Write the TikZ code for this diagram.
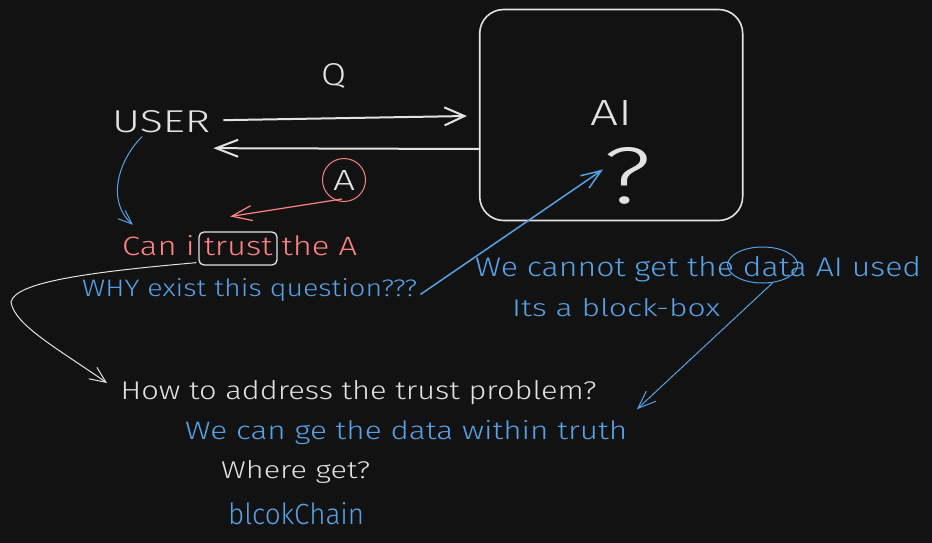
\documentclass[tikz,border=0pt]{standalone}
\usepackage{fontspec}
\IfFontExistsTF{Fira Sans Light}{\setmainfont{Fira Sans Light}}{%
  \IfFontExistsTF{Lato Light}{\setmainfont{Lato Light}}{\setmainfont{Fira Sans}}}
\usetikzlibrary{arrows.meta,shapes.geometric,calc}
\definecolor{bg}{HTML}{121212}
\definecolor{fg}{HTML}{E2E2E2}
\definecolor{rd}{HTML}{FF8383}
\definecolor{bl}{HTML}{56A2E8}
\newcommand\tx[3]{\resizebox{#1pt}{#2pt}{#3}}
\begin{document}
\begin{tikzpicture}[x=1pt,y=-1pt,
  lbl/.style={inner sep=0, anchor=base west, font=\fontsize{20}{24}\selectfont},
  barb/.style 2 args={-{Straight Barb[length=#1pt,width=#2pt]}},
  frame/.style={draw=fg, line width=1.6pt, inner sep=0}]
\fill[bg] (0,0) rectangle (932,543);
\useasboundingbox (0,0) rectangle (932,543);

% texts
\node[lbl,text=fg] (q) at (321,85) {\tx{25}{22}{Q}};
\node[lbl,text=fg] (user) at (112,132) {\tx{98}{22}{USER}};
\node[frame, rounded corners=24pt, minimum width=263pt, minimum height=211pt] (box) at (611.2,115) {};
\node[lbl,text=fg] (ai) at (590,125) {\tx{42}{25}{AI}};
\node[lbl,text=fg] (qm) at (603,203) {\tx{48}{56}{?}};
\node[circle, draw=rd, line width=1pt, minimum size=43pt, inner sep=0, text=fg,
      font=\fontsize{20}{24}\selectfont] (ans) at (344,180) {\tx{22}{20}{A}};
\node[lbl,text=rd] (can) at (122,255) {\tx{235}{20}{Can i trust the A}};
\node[frame, line width=1.3pt, rounded corners=5pt, minimum width=78pt, minimum height=33pt] (trustbox) at (238,248.5) {};
\node[lbl,text=bl] (why) at (82,296) {\tx{335}{18}{WHY exist this question???}};
\node[lbl,text=bl] (cannot) at (475,276) {\tx{446}{20}{We cannot get the data AI used}};
\node[ellipse, draw=bl, line width=1pt, minimum width=70pt, minimum height=36pt, inner sep=0] (dataell) at (762.6,265) {};
\node[lbl,text=bl] (blackbox) at (512,316) {\tx{208}{18}{Its a block-box}};
\node[lbl,text=fg] (how) at (120.5,399) {\tx{476}{19}{How to address the trust problem?}};
\node[lbl,text=bl] (within) at (185,439) {\tx{442}{19}{We can ge the data within truth}};
\node[lbl,text=fg] (where) at (221,478) {\tx{149}{18}{Where get?}};
\node[lbl,text=bl] (chain) at (228,524) {\tx{136}{22}{blcokChain}};

% connectors
\draw[fg, line width=2pt, barb={20}{18}] ([shift={(13,-1)}]user.east) -- ([shift={(-12,1)}]box.west);
\draw[fg, line width=2pt, barb={22}{17}] ([shift={(0,34)}]box.west) -- ([shift={(3,27)}]user.east);
\draw[rd, line width=1.2pt, barb={20}{15}] ([shift={(-2,-3)}]ans.south) -- ([shift={(-9.5,-18.3)}]can.north);
\draw[bl, line width=1pt, barb={14}{11}] ([shift={(-19,4)}]user.south)
   .. controls (120,158) and (105,200) .. ([shift={(11,-10)}]can.north west);
\draw[bl, line width=1.5pt, barb={20}{15}] ([shift={(3,5)}]why.east) -- ([shift={(0,-6)}]qm.west);
\draw[bl, line width=1pt, barb={18}{14}] (dataell.-60) -- ([shift={(9.5,-10.5)}]within.north east);
\draw[fg, line width=1pt, barb={16}{14}] ([shift={(-2,-3)}]trustbox.south west)
   .. controls (90,272) and (15,282) .. (11,302)
   .. controls (14,325) and (60,350) .. ([shift={(-13.5,-16)}]how.base west);
\end{tikzpicture}
\end{document}
